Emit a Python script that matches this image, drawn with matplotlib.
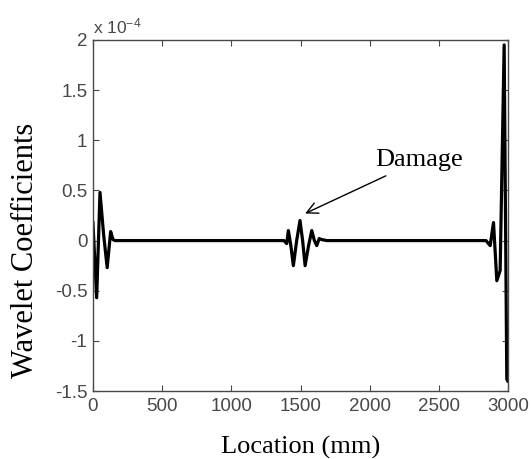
import matplotlib
matplotlib.use('Agg')
import matplotlib.pyplot as plt

plt.rcParams['mathtext.fontset'] = 'custom'
plt.rcParams['mathtext.rm'] = 'Liberation Sans'
plt.rcParams['mathtext.it'] = 'Liberation Sans'

# Wavelet coefficient curve (x 1e-4)
location = [0, 27, 51, 78, 103, 128, 145, 160,
            1380, 1400, 1412, 1430, 1448, 1472, 1496, 1515, 1533, 1558, 1581, 1600, 1617, 1635, 1653, 1690,
            2840, 2870, 2894, 2918, 2942, 2971, 2990, 2997]
coeff = [0.18, -0.57, 0.48, 0.05, -0.27, 0.09, 0.01, 0.0,
         0.0, -0.03, 0.1, -0.05, -0.25, 0.0, 0.2, 0.0, -0.25, -0.05, 0.1, 0.0, -0.05, 0.02, 0.01, 0.0,
         0.0, -0.05, 0.18, -0.4, -0.3, 1.95, -1.38, -1.4]

xticks = [0, 500, 1000, 1500, 2000, 2500, 3000]
yticks = [-1.5, -1, -0.5, 0, 0.5, 1, 1.5, 2]
ytick_labels = ['-1.5', '-1', '-0.5', '0', '0.5', '1', '1.5', '2']

gray = '#484848'
fig = plt.figure(figsize=(5.31, 4.59), dpi=100)
ax = fig.add_axes([0.175, 0.148, 0.782, 0.765])
ax.plot(location, coeff, color='black', linewidth=2.3)

ax.set_xlim(0, 3000)
ax.set_ylim(-1.5, 2)
ax.set_xticks(xticks)
ax.set_xticklabels([str(t) for t in xticks], fontfamily='Liberation Sans', fontsize=13.5, color=gray)
ax.set_yticks(yticks)
ax.set_yticklabels(ytick_labels, fontfamily='Liberation Sans', fontsize=13.5, color=gray)
ax.tick_params(direction='in', top=True, right=True, length=4, color=gray)
ax.tick_params(axis='x', pad=5)
ax.tick_params(axis='y', pad=4)
for s in ax.spines.values():
    s.set_color(gray)
    s.set_linewidth(1.0)

ax.text(0.0, 1.01, r'x 10$^{-4}$', transform=ax.transAxes, fontfamily='Liberation Sans',
        fontsize=12.5, color=gray, ha='left', va='bottom')

ax.set_xlabel('Location (mm)', fontfamily='Liberation Serif', fontsize=19, labelpad=15)
ax.set_ylabel('Wavelet Coefficients', fontfamily='Liberation Serif', fontsize=22)
ax.yaxis.set_label_coords(-0.127, 0.40)

ax.annotate('Damage', xy=(1533, 0.27), xytext=(2040, 0.80),
            fontfamily='Liberation Serif', fontsize=19, va='center', ha='left',
            arrowprops=dict(arrowstyle='->', color='black', lw=1.0, mutation_scale=20,
                            shrinkA=3, shrinkB=0))

fig.savefig('out.png', dpi=100)
